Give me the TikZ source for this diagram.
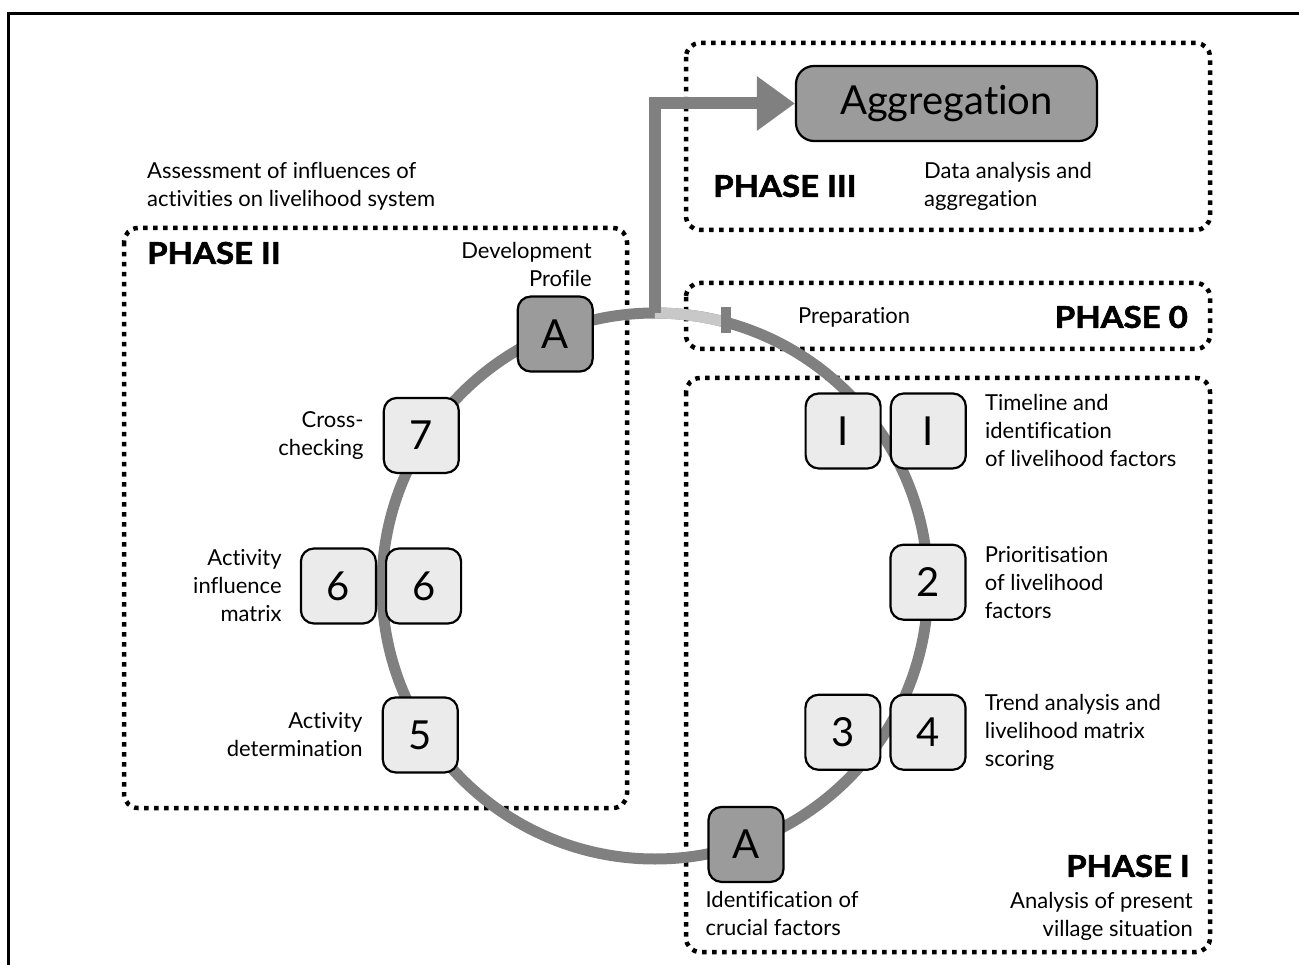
\documentclass[tikz,border=0pt]{standalone}
\usepackage{fontspec}
\setmainfont{Lato}[Ligatures=NoCommon]
\newfontfamily\heavyfont{Lato}[Ligatures=NoCommon, BoldFeatures={FakeBold=2, FakeStretch=1.1}]
\usetikzlibrary{positioning,calc,arrows.meta}

\definecolor{ringgray}{HTML}{808080}
\definecolor{ringlight}{HTML}{C8C8C8}
\definecolor{boxfill}{HTML}{EBEBEB}
\definecolor{keyfill}{HTML}{9B9B9B}

\begin{document}
\begin{tikzpicture}[x=1pt, y=1pt,
  stepbox/.style={draw=black, line width=2.2pt, fill=boxfill, rounded corners=13pt,
    minimum size=75pt, inner sep=0pt, font=\fontsize{40}{40}\selectfont},
  keybox/.style={stepbox, fill=keyfill},
  phasebox/.style={line width=4.5pt, dash pattern=on 4.5pt off 5.5pt, rounded corners=14pt},
  lbl/.style={font=\fontsize{22}{28}\selectfont, inner sep=0pt},
  phase/.style={font=\fontsize{30}{30}\selectfont\heavyfont\bfseries, inner sep=0pt},
  ring/.style={draw=ringgray, line width=11pt},
]

% Page size and frame
\useasboundingbox (0,0) rectangle (1299,-965);
\draw[line width=3pt] (8,-965) -- (8,-14) -- (1299,-14);

% Dotted phase boxes
\foreach \xa/\ya/\xb/\yb in {686/-43/1210/-230, 686/-283/1210/-349,
                             686/-378/1210/-952, 124/-228/627/-808} {
    \draw[phasebox] (\xa,\ya) rectangle (\xb,\yb);
}

% The ring
\def\r{273}
\coordinate (ctr) at (655,-586);
\draw[ring] (ctr) circle (\r);
\draw[ring, draw=ringlight] ($(ctr)+(90:\r)$) arc (90:75:\r);
\coordinate (branch) at ($(ctr)+(90:\r)$);
\coordinate (tick) at ($(ctr)+(75:\r)$);
\draw[ringgray, line width=10pt] ([yshift=15pt]tick) -- ([yshift=-11pt]tick);

% Phase III
\node[keybox, minimum width=301pt, minimum height=75pt, rounded corners=18pt,
      font=\fontsize{40}{40}\selectfont] (agg) at (946.5,-103.5) {Aggregation};
\draw[ringgray, line width=12pt, -{Triangle[length=38pt, width=52pt]}] (branch) |- (agg.west);
\node[phase, anchor=west] (ph3) at (713,-186) {PHASE III};
\node[lbl, anchor=west, align=left] (datalbl) at (924,-186) {Data analysis and\\aggregation};

% Phase 0
\node[lbl, anchor=west] (prep) at (798,-317) {Preparation};
\node[phase, anchor=east] (ph0) at (1188,-317) {PHASE 0};

% Steps on the ring
\coordinate (c11) at ($(ctr)+(33.9:278)$);
\coordinate (c34) at ($(ctr)+(-32.4:273)$);
\coordinate (c66) at ($(ctr)+(180:274)$);
\node[keybox] (pa) at ($(ctr)+(111.6:271)$) {A};
\node[stepbox] (s7) at ($(ctr)+(147.2:278)$) {7};
\node[stepbox, left=4pt of c66] (s6a) {6};
\node[stepbox, right=4pt of c66] (s6b) {6};
\node[stepbox] (s5) at ($(ctr)+(212.4:278)$) {5};
\node[keybox] (pb) at ($(ctr)+(289.4:274)$) {A};
\node[stepbox, left=4pt of c34] (s3) {3};
\node[stepbox, right=4pt of c34] (s4) {4};
\node[stepbox] (s2) at ($(ctr)+(0.8:273)$) {2};
\node[stepbox, left=4pt of c11] (s1a) {I};
\node[stepbox, right=4pt of c11] (s1b) {I};

% Phase I
\node[lbl, align=left, right=18pt of s1b] (timelbl) {Timeline and\\identification\\of livelihood factors};
\node[lbl, align=left, right=18pt of s2] (priolbl) {Prioritisation\\of livelihood\\factors};
\node[lbl, align=left, right=18pt of s4] (trendlbl) {Trend analysis and\\livelihood matrix\\scoring};
\node[lbl, align=left, anchor=north west] (critlbl) at ([xshift=-2pt, yshift=-8pt]pb.south west)
    {Identification of\\crucial factors};
\node[phase, anchor=east] (ph1) at (1190,-866) {PHASE I};
\node[lbl, anchor=east, align=right] (villlbl) at (1193,-916) {Analysis of present\\village situation};

% Phase II
\node[lbl, anchor=west, align=left] (assess) at (147,-186) {Assessment of influences of\\activities on livelihood system};
\node[phase, anchor=west] (ph2) at (147,-253) {PHASE II};
\node[lbl, align=right, anchor=south east] (devlbl) at ([xshift=-2pt, yshift=9pt]pa.north east)
    {Development\\Profile};
\node[lbl, align=right, left=19pt of s7] (crosslbl) {Cross-\\checking};
\node[lbl, align=right, left=18pt of s6a] (matlbl) {Activity\\influence\\matrix};
\node[lbl, align=right, left=19pt of s5] (actlbl) {Activity\\determination};

\end{tikzpicture}
\end{document}
